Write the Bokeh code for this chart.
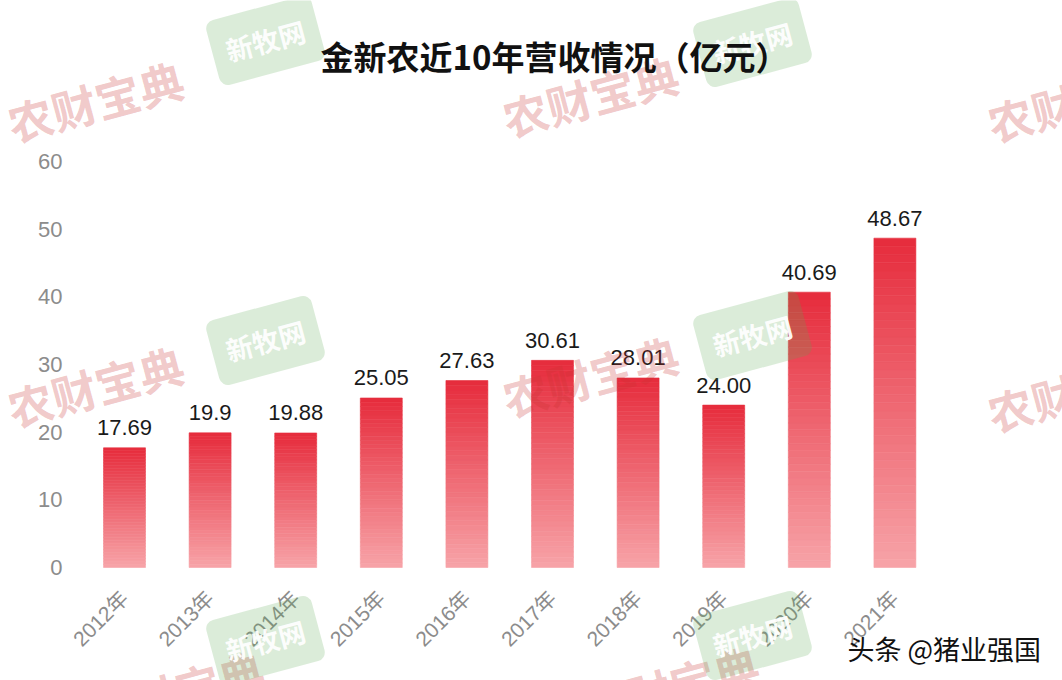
import math
from bokeh.plotting import figure
from bokeh.models import ColumnDataSource, Range1d, Label, FixedTicker, LinearAxis
from bokeh.core.properties import value
from bokeh.embed import file_html
from bokeh.resources import INLINE

# ---- data ----
years = ["2012年", "2013年", "2014年", "2015年", "2016年", "2017年", "2018年", "2019年", "2020年", "2021年"]
revenue = [17.69, 19.9, 19.88, 25.05, 27.63, 30.61, 28.01, 24.00, 40.69, 48.67]
value_labels = ["17.69", "19.9", "19.88", "25.05", "27.63", "30.61", "28.01", "24.00", "40.69", "48.67"]
y_ticks = [0, 10, 20, 30, 40, 50, 60]
title_text = "金新农近10年营收情况（亿元）"
source_text = "头条 @猪业强国"

FONT = "Liberation Sans, Noto Sans CJK SC"
CJK = "Noto Sans CJK SC"

W, H = 1062, 680
# layout constants (page pixels): first bar centre, bar spacing, y=0 and y=60 positions
X0, DX, Y0, Y60 = 124, 85.6, 567, 161
ypx = (Y0 - Y60) / 60.0
idx = list(range(len(years)))

x_start = -X0 / DX
x_end = x_start + W / DX
y_start = -(H - Y0) / ypx
y_end = 60 + Y60 / ypx

p = figure(x_range=Range1d(x_start, x_end), y_range=Range1d(y_start, y_end),
           width=W, height=H, output_backend="svg", toolbar_location=None,
           x_axis_type=None, y_axis_type=None,
           min_border_left=0, min_border_right=0, min_border_top=0, min_border_bottom=0)
p.outline_line_color = None
p.xgrid.grid_line_color = None
p.ygrid.grid_line_color = None
p.background_fill_color = "white"
p.border_fill_color = "white"

# ---- gradient bars (stacked slices per bar) ----
top_rgb = (230, 44, 60)
bot_rgb = (247, 163, 168)
N = 40
xs, bottoms, tops, colors = [], [], [], []
for i, v in zip(idx, revenue):
    for k in range(N):
        t = (k + 0.5) / N
        r = round(bot_rgb[0] + (top_rgb[0] - bot_rgb[0]) * t)
        g = round(bot_rgb[1] + (top_rgb[1] - bot_rgb[1]) * t)
        b = round(bot_rgb[2] + (top_rgb[2] - bot_rgb[2]) * t)
        xs.append(i)
        bottoms.append(v * k / N)
        tops.append(v * (k + 1) / N)
        colors.append("#%02x%02x%02x" % (r, g, b))
src = ColumnDataSource(dict(x=xs, bottom=bottoms, top=tops, color=colors))
p.vbar(x="x", bottom="bottom", top="top", width=0.49, fill_color="color",
       line_color="color", line_width=0.6, source=src)

lab_src = ColumnDataSource(dict(x=idx, y=revenue, t=value_labels))
p.text(x="x", y="y", text="t", source=lab_src, text_align="center", text_baseline="alphabetic",
       y_offset=-20, text_font=value(FONT), text_font_size="22px", text_color="#1a1a1a")

# ---- axes (fixed inside the full-canvas frame) ----
xaxis = LinearAxis(ticker=FixedTicker(ticks=idx),
                   major_label_overrides={i: y for i, y in zip(idx, years)},
                   fixed_location=0)
yaxis = LinearAxis(ticker=FixedTicker(ticks=y_ticks), fixed_location=(81 - X0) / DX)
for ax in (xaxis, yaxis):
    ax.axis_line_color = None
    ax.major_tick_line_color = None
    ax.minor_tick_line_color = None
    ax.major_label_text_color = "#8c8c8c"
    ax.major_label_text_font = FONT
xaxis.major_label_text_font_size = "21px"
xaxis.major_label_standoff = 21
xaxis.major_label_orientation = math.pi / 4
yaxis.major_label_text_font_size = "22px"
yaxis.major_label_standoff = 13
p.add_layout(xaxis, "below")
p.add_layout(yaxis, "left")

# ---- page pixel -> screen units (frame == canvas) ----
def sx(px):
    return px

def sy(py):
    return H - py

# ---- watermarks ----
ang = math.radians(15)
for (cx, cy) in [(95, 100), (590, 95), (1075, 100), (95, 385), (590, 375), (1075, 390), (175, 690), (670, 685)]:
    p.add_layout(Label(x=sx(cx), y=sy(cy), x_units="screen", y_units="screen", text="农财宝典",
                       angle=ang, text_align="center", text_baseline="middle",
                       text_font=CJK, text_font_style="bold", text_font_size="45px",
                       text_color="#c83232", text_alpha=0.27))
for (cx, cy) in [(265, 40), (752, 42), (265, 340), (752, 335), (265, 640), (752, 635)]:
    p.add_layout(Label(x=sx(cx), y=sy(cy), x_units="screen", y_units="screen", text="新牧网",
                       angle=ang, text_align="center", text_baseline="middle",
                       text_font=CJK, text_font_style="bold", text_font_size="27px",
                       text_color="white", text_alpha=0.95,
                       background_fill_color="#5aa850", background_fill_alpha=0.22,
                       padding=14, border_radius=9))

# ---- title and source ----
p.add_layout(Label(x=sx(554), y=sy(55), x_units="screen", y_units="screen", text=title_text,
                   text_align="center", text_baseline="middle", text_font=CJK,
                   text_font_style="bold", text_font_size="33px", text_color="#111111"))
p.add_layout(Label(x=sx(847), y=sy(648), x_units="screen", y_units="screen", text=source_text,
                   text_align="left", text_baseline="middle", text_font=CJK,
                   text_font_size="27px", text_color="#111111"))

open("out.html", "w").write(file_html(p, INLINE))
